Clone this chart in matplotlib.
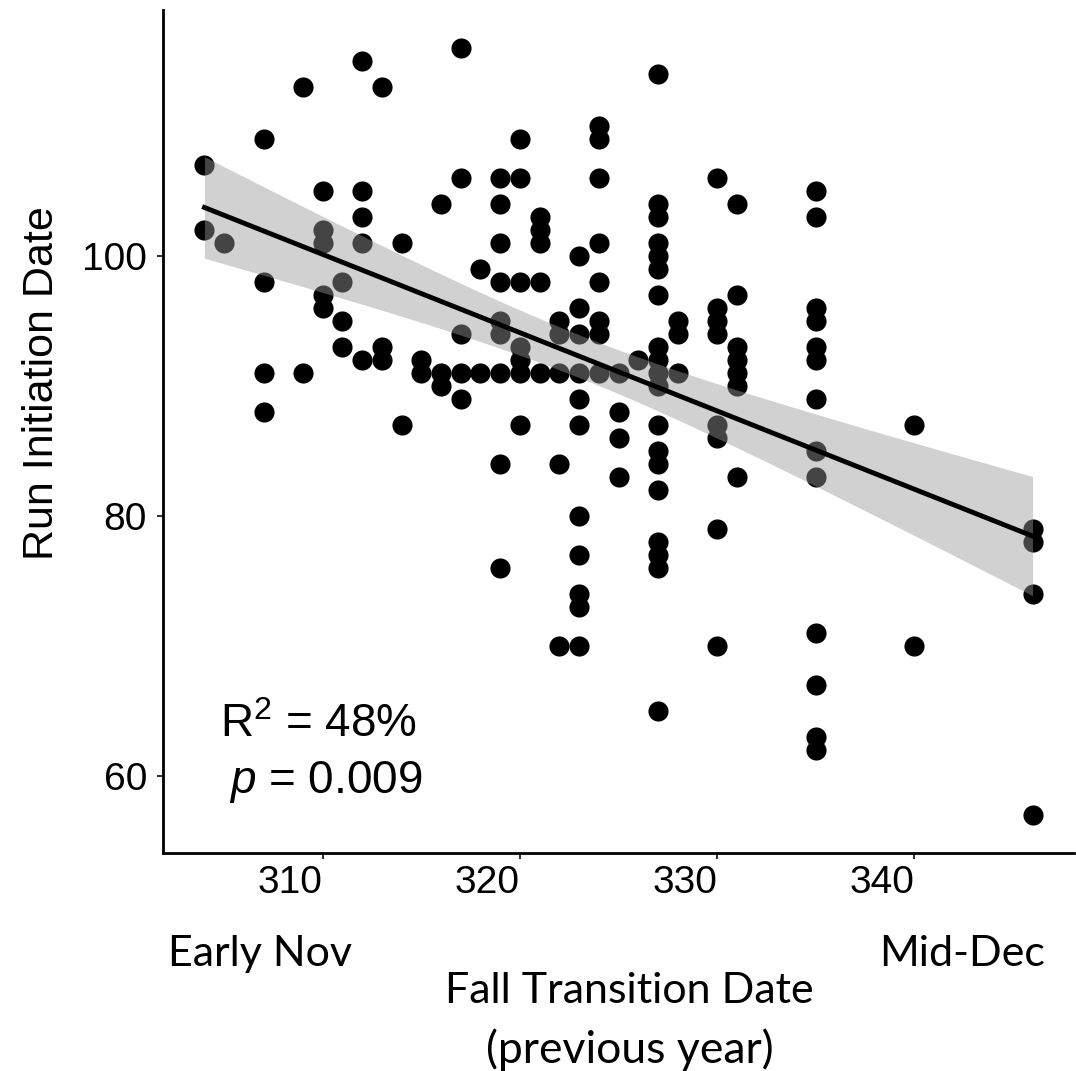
import numpy as np
import matplotlib
matplotlib.use("Agg")
import matplotlib.pyplot as plt

# fall transition day (previous year) and run initiation day, one entry per point
fall_day = (
    [304] * 2 + [305] + [307] * 4 + [309] * 2 + [310] * 5 + [311] * 3 + [312] * 5
    + [313] * 3 + [314] * 2 + [315] * 2 + [316] * 3 + [317] * 5 + [318] * 2
    + [319] * 9 + [320] * 7 + [321] * 5 + [322] * 5 + [323] * 11 + [324] * 8
    + [325] * 4 + [326] + [327] * 19 + [328] * 3 + [330] * 8 + [331] * 7
    + [335] * 13 + [340] * 2 + [346] * 4
)
run_day = [
    107, 102,
    101,
    109, 98, 91, 88,
    113, 91,
    105, 102, 101, 97, 96,
    98, 95, 93,
    115, 105, 103, 101, 92,
    113, 93, 92,
    101, 87,
    92, 91,
    104, 91, 90,
    116, 106, 94, 91, 89,
    99, 91,
    106, 104, 101, 98, 95, 94, 91, 84, 76,
    109, 106, 98, 93, 92, 91, 87,
    103, 102, 101, 98, 91,
    95, 94, 91, 84, 70,
    100, 96, 94, 91, 89, 87, 80, 77, 74, 73, 70,
    110, 109, 106, 101, 98, 95, 94, 91,
    91, 88, 86, 83,
    92,
    114, 104, 103, 101, 100, 99, 97, 93, 92, 91, 90, 87, 85, 84, 82, 78, 77, 76, 65,
    95, 94, 91,
    106, 96, 95, 94, 87, 86, 79, 70,
    104, 97, 93, 92, 91, 90, 83,
    105, 103, 96, 95, 93, 92, 89, 85, 83, 71, 67, 63, 62,
    87, 70,
    79, 78, 74, 57,
]

x_ticks = [310, 320, 330, 340]
y_ticks = [60, 80, 100]

W, H = 1076, 1071
plt.rcParams["mathtext.fontset"] = "custom"
plt.rcParams["mathtext.rm"] = "Liberation Sans"
plt.rcParams["mathtext.it"] = "Liberation Sans:italic"

x = np.array(fall_day, dtype=float)
y = np.array(run_day, dtype=float)

# linear fit with 95% confidence band (like geom_smooth(method="lm"))
slope, icpt = np.polyfit(x, y, 1)
n = len(x)
resid = y - (slope * x + icpt)
s = np.sqrt(np.sum(resid ** 2) / (n - 2))
xs = np.linspace(x.min(), x.max(), 100)
ys = slope * xs + icpt
se = s * np.sqrt(1 / n + (xs - x.mean()) ** 2 / np.sum((x - x.mean()) ** 2))
t95 = 1.977

fig = plt.figure(figsize=(W / 100, H / 100), dpi=100)
ax = fig.add_axes([163 / W, 1 - 853 / H, (1074 - 163) / W, (853 - 10) / H])

ax.scatter(x, y, s=210, color="black", linewidths=0, zorder=2)
ax.fill_between(xs, ys - t95 * se, ys + t95 * se, color="#999999", alpha=0.45,
                linewidth=0, zorder=3)
ax.plot(xs, ys, color="black", linewidth=3.5, zorder=4)

xr = x.max() - x.min()
yr = y.max() - y.min()
ax.set_xlim(x.min() - 0.05 * xr, x.max() + 0.05 * xr)
ax.set_ylim(y.min() - 0.05 * yr, y.max() + 0.05 * yr)

ax.set_xticks(x_ticks)
ax.set_yticks(y_ticks)
ax.set_xticklabels([str(v) for v in x_ticks], ha="right",
                   fontfamily="Liberation Sans", fontsize=28)
ax.set_yticklabels([str(v) for v in y_ticks],
                   fontfamily="Liberation Sans", fontsize=28)
ax.tick_params(axis="x", length=4.5, width=1.5, color="#333333", pad=4)
ax.tick_params(axis="y", length=4.5, width=1.5, color="#333333", pad=7)

for side in ["top", "right"]:
    ax.spines[side].set_visible(False)
for side in ["left", "bottom"]:
    ax.spines[side].set_linewidth(2)
    ax.spines[side].set_color("black")

# annotation
fig.text(220 / W, 1 - 737 / H, "R$^2$ = 48%", fontfamily="Liberation Sans",
         fontsize=33, va="baseline", ha="left")
fig.text(229 / W, 1 - 793 / H, "$p$ = 0.009", fontfamily="Liberation Sans",
         fontsize=33, va="baseline", ha="left")

# axis titles
fig.text(53 / W, 1 - 383 / H, "Run Initiation Date", fontfamily="Liberation Sans",
         fontsize=31, rotation=90, rotation_mode="anchor", ha="center", va="baseline")
fig.text(260 / W, 1 - 966 / H, "Early Nov", fontfamily="Lato", fontsize=31,
         ha="center", va="baseline")
fig.text(962 / W, 1 - 966 / H, "Mid-Dec", fontfamily="Lato", fontsize=31,
         ha="center", va="baseline")
fig.text(629 / W, 1 - 1003 / H, "Fall Transition Date", fontfamily="Lato",
         fontsize=31, ha="center", va="baseline")
fig.text(630 / W, 1 - 1063 / H, "(previous year)", fontfamily="Lato",
         fontsize=32, ha="center", va="baseline")

fig.savefig("out.png", dpi=100)
